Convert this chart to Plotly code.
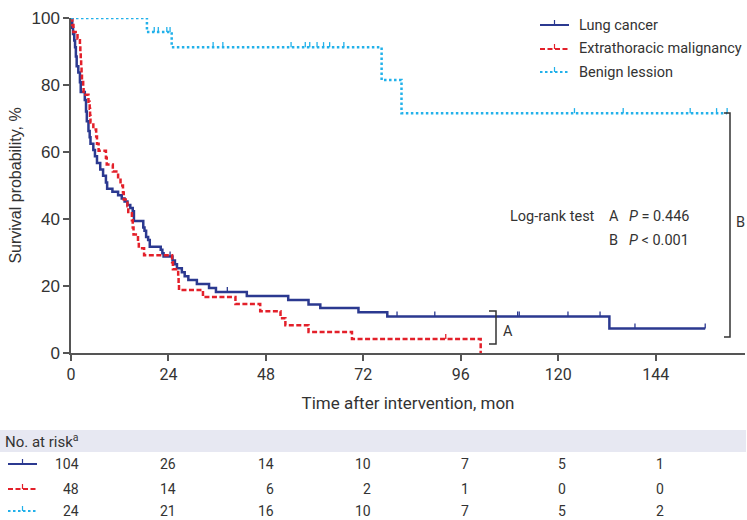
import plotly.graph_objects as go

# ---------------- data ----------------
lung_t = [0, 0.3, 0.5, 0.8, 1.0, 1.2, 1.4, 1.8, 2.2, 2.4, 3.4, 3.7, 3.9, 4.3, 4.6, 4.8, 5.5, 5.9, 6.4, 7.2,
          7.9, 8.6, 8.9, 10.2, 11.6, 12.5, 13.2, 13.9, 14.6, 15.2, 15.5, 17.8, 18.1, 18.5, 19.0, 19.4, 22.1,
          22.5, 22.8, 25.0, 25.6, 26.1, 27.3, 28.0, 28.9, 31.0, 34.0, 35.7, 43.3, 53.5, 58.5, 61.4, 70.8,
          77.9, 132.6]
lung_s = [100, 97.1, 95.2, 93.3, 91.3, 88.5, 85.6, 83.7, 80.8, 77.9, 75.5, 72.1, 69.2, 66.3, 64.4, 62.5,
          60.6, 58.7, 56.7, 54.8, 52.9, 50.9, 49.0, 48.1, 47.1, 46.1, 45.2, 44.2, 43.3, 42.3, 39.4, 37.5,
          36.5, 34.6, 33.7, 31.7, 30.8, 29.8, 28.8, 27.6, 26.5, 25.3, 24.1, 22.9, 21.8, 20.6, 19.4, 18.2,
          17.0, 15.8, 14.5, 13.4, 12.2, 10.9, 7.3]
lung_end = 156.2
lung_cens = [24.4, 38.5, 80.3, 89.6, 110.0, 110.4, 122.4, 130.3, 138.9, 156.2]

extra_t = [0, 0.3, 0.6, 1.6, 2.2, 2.3, 2.4, 2.5, 2.6, 2.7, 3.0, 3.1, 4.3, 4.6, 4.7, 4.8, 5.5, 6.2, 6.4,
           6.8, 8.6, 8.8, 10.3, 11.6, 12.2, 12.8, 13.0, 13.9, 14.1, 15.0, 15.2, 15.4, 16.5, 16.7, 18.0,
           24.9, 25.1, 26.4, 26.5, 26.6, 32.5, 40.5, 46.6, 51.6, 52.8, 58.5, 69.2, 100.9]
extra_s = [100, 97.9, 95.8, 93.8, 91.7, 89.6, 87.5, 85.4, 83.3, 81.3, 79.2, 77.1, 75.0, 72.9, 70.8, 68.8,
           66.7, 64.6, 62.5, 60.4, 58.3, 56.3, 54.2, 52.1, 50.0, 47.9, 45.8, 43.8, 41.7, 39.6, 37.5, 35.4,
           33.3, 31.3, 29.2, 27.1, 25.0, 22.9, 20.8, 18.8, 16.7, 14.6, 12.5, 10.4, 8.3, 6.3, 4.2, 0]
extra_end = 100.9
extra_cens = [92.3]

benign_t = [0, 18.7, 24.8, 76.5, 81.4]
benign_s = [100, 95.8, 91.3, 81.5, 71.6]
benign_end = 161.6
benign_cens = [20.5, 21.5, 23.6, 24.4, 35.0, 37.4, 54.2, 57.7, 58.8, 60.6, 62.2, 63.7, 67.2,
               124.0, 136.0, 152.5, 159.0, 161.6]

series_names = ["Lung cancer", "Extrathoracic malignancy", "Benign lession"]
risk_times = [0, 24, 48, 72, 96, 120, 144]
risk_lung = [104, 26, 14, 10, 7, 5, 1]
risk_extra = [48, 14, 6, 2, 1, 0, 0]
risk_benign = [24, 21, 16, 10, 7, 5, 2]
x_ticks = [0, 24, 48, 72, 96, 120, 144]
y_ticks = [0, 20, 40, 60, 80, 100]

# ---------------- style ----------------
NAVY = "#2b3990"
RED = "#e3202a"
BLUE = "#22b1ea"
TXT = "#333333"
AX = "#555555"
styles = [
    dict(color=NAVY, dash="solid", width=2.5),
    dict(color=RED, dash="5px,2.5px", width=2.5),
    dict(color=BLUE, dash="2.5px,2.5px", width=2.5),
]
NARROW = "Roboto, sans-serif"
HUMAN = "Roboto, Noto Sans, sans-serif"
ARIAL = "Liberation Sans, Arial, sans-serif"

W, H = 747, 520
L, R, T, B = 71, 745, 18, 353


def pxx(x):
    return (x - L) / (R - L)


def pxy(y):
    return (B - y) / (B - T)


def level_at(ts, ss, t):
    v = ss[0]
    for ti, si in zip(ts, ss):
        if ti <= t:
            v = si
    return v


fig = go.Figure()
TICK_H = 1.5
for (ts, ss, end, cens), name, st in zip(
        [(lung_t, lung_s, lung_end, lung_cens),
         (extra_t, extra_s, extra_end, extra_cens),
         (benign_t, benign_s, benign_end, benign_cens)],
        series_names, styles):
    xs = list(ts) + [end]
    ys = list(ss) + [ss[-1]]
    fig.add_trace(go.Scatter(x=xs, y=ys, mode="lines", name=name, line_shape="hv",
                             line=dict(color=st["color"], dash=st["dash"], width=st["width"]),
                             cliponaxis=False, showlegend=False, hoverinfo="skip"))
    cx, cy = [], []
    for c in cens:
        lv = level_at(ts, ss, c)
        cx += [c, c, None]
        cy += [lv, lv + TICK_H, None]
    fig.add_trace(go.Scatter(x=cx, y=cy, mode="lines", line=dict(color=st["color"], width=1.3),
                             cliponaxis=False, showlegend=False, hoverinfo="skip"))

shapes = []
annotations = []

# manual legend
leg_y = [25, 49, 72]
for name, st, yy in zip(series_names, styles, leg_y):
    shapes.append(dict(type="line", xref="paper", yref="paper", x0=pxx(540), x1=pxx(569),
                       y0=pxy(yy), y1=pxy(yy), line=dict(color=st["color"], dash=st["dash"], width=2)))
    shapes.append(dict(type="line", xref="paper", yref="paper", x0=pxx(554.5), x1=pxx(554.5),
                       y0=pxy(yy), y1=pxy(yy - 5), line=dict(color=st["color"], width=1.2)))
    annotations.append(dict(text=name, xref="paper", yref="paper", x=pxx(577), y=pxy(yy),
                            xanchor="left", yanchor="middle", showarrow=False,
                            font=dict(family=HUMAN, size=14.5, color=TXT)))

# log-rank text
for txt, xp, yp in [("Log-rank test", 508, 216), ("A", 607, 216), ("<i>P</i> = 0.446", 627, 216),
                    ("B", 607, 240), ("<i>P</i> < 0.001", 627, 240)]:
    annotations.append(dict(text=txt, xref="paper", yref="paper", x=pxx(xp), y=pxy(yp),
                            xanchor="left", yanchor="middle", showarrow=False,
                            font=dict(family=HUMAN, size=14.5, color=TXT)))

# brackets
def bracket(x0, x1, y0, y1):
    return dict(type="path", xref="paper", yref="paper",
                path=f"M {pxx(x0)},{pxy(y0)} L {pxx(x1)},{pxy(y0)} L {pxx(x1)},{pxy(y1)} L {pxx(x0)},{pxy(y1)}",
                line=dict(color="#333333", width=1.5))


shapes.append(bracket(489, 496, 311, 344))
shapes.append(bracket(724, 730, 113, 337))
annotations.append(dict(text="A", xref="paper", yref="paper", x=pxx(501), y=pxy(331), xanchor="left",
                        yanchor="middle", showarrow=False, font=dict(family=HUMAN, size=14.5, color=TXT)))
annotations.append(dict(text="B", xref="paper", yref="paper", x=pxx(734), y=pxy(222), xanchor="left",
                        yanchor="middle", showarrow=False, font=dict(family=HUMAN, size=14.5, color=TXT)))

# risk table
shapes.append(dict(type="rect", xref="paper", yref="paper", x0=pxx(0), x1=pxx(746), y0=pxy(430), y1=pxy(452),
                   fillcolor="#e7e8f2", line=dict(width=0), layer="below"))
annotations.append(dict(text="No. at risk<sup>a</sup>", xref="paper", yref="paper", x=pxx(3), y=pxy(441),
                        xanchor="left", yanchor="middle", showarrow=False,
                        font=dict(family=NARROW, size=15, color=TXT)))
row_y = [464, 489, 511]
for risk, st, yy in zip([risk_lung, risk_extra, risk_benign], styles, row_y):
    shapes.append(dict(type="line", xref="paper", yref="paper", x0=pxx(8), x1=pxx(37),
                       y0=pxy(yy), y1=pxy(yy), line=dict(color=st["color"], dash=st["dash"], width=2)))
    shapes.append(dict(type="line", xref="paper", yref="paper", x0=pxx(22.5), x1=pxx(22.5),
                       y0=pxy(yy), y1=pxy(yy - 5), line=dict(color=st["color"], width=1.2)))
    for t, n in zip(risk_times, risk):
        annotations.append(dict(text=str(n), xref="x", yref="paper", x=t, y=pxy(yy), xanchor="right",
                                xshift=10, yanchor="middle", showarrow=False,
                                font=dict(family=NARROW, size=14, color=TXT)))

fig.update_layout(
    width=W, height=H,
    margin=dict(l=L, r=W - R, t=T, b=H - B),
    paper_bgcolor="white", plot_bgcolor="white",
    shapes=shapes, annotations=annotations,
    showlegend=False,
    xaxis=dict(range=[0, 166], tickvals=x_ticks, showline=True, linecolor=AX, linewidth=1.5,
               ticks="outside", ticklen=6, tickwidth=1.5, tickcolor=AX, showgrid=False, zeroline=False,
               tickfont=dict(family=NARROW, size=16, color=TXT),
               title=dict(text="Time after intervention, mon", standoff=14,
                          font=dict(family=NARROW, size=17, color=TXT))),
    yaxis=dict(range=[0, 100], tickvals=y_ticks, showline=True, linecolor=AX, linewidth=1.5,
               ticks="outside", ticklen=6, tickwidth=1.5, tickcolor=AX, showgrid=False, zeroline=False,
               tickfont=dict(family=ARIAL, size=17, color=TXT),
               title=dict(text="Survival probability, %", standoff=6,
                          font=dict(family=ARIAL, size=16, color=TXT))),
)

fig.write_html("out.html", config={"displayModeBar": False},
               post_script="document.body.style.margin='0';document.body.style.padding='0';")
